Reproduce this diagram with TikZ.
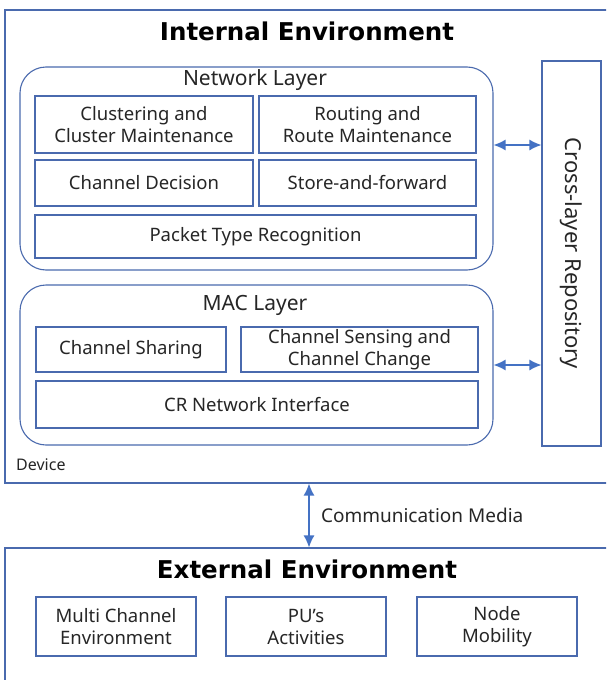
\documentclass[tikz,border=0pt]{standalone}
\usepackage{fontspec}
\setmainfont{Noto Sans}
\newfontfamily\titlefont{DejaVu Sans}
\usetikzlibrary{positioning,arrows.meta,calc}
\definecolor{frame}{HTML}{4A6AAE}
\definecolor{arrowblue}{HTML}{4472C4}
\definecolor{txt}{HTML}{262626}

\tikzset{
  envbox/.style={draw=frame, line width=1.1pt, fill=white},
  layerbox/.style={draw=frame, line width=1.1pt, rounded corners=26pt},
  funcbox/.style={draw=frame, line width=1.1pt, align=center, text=txt,
                  font=\fontsize{18.5}{22}\selectfont, inner sep=0pt},
  layerlabel/.style={text=txt, font=\fontsize{21}{24}\selectfont},
  envtitle/.style={font=\titlefont\bfseries\fontsize{24.5}{29}\selectfont},
  link/.style={{Latex[length=12pt,width=11pt]}-{Latex[length=12pt,width=11pt]},
               draw=arrowblue, line width=1.4pt}
}

\begin{document}
\begin{tikzpicture}[x=1pt, y=-1pt]
    \useasboundingbox (0,0) rectangle (606,680);
    \clip (0,0) rectangle (606,680);
    % internal side
    \node[envbox, minimum width=608pt, minimum height=473pt] (internal) at (309,246.5) {};
    \node[envtitle] (intitle) at (307,31) {Internal Environment};
    \node[layerbox, minimum width=473pt, minimum height=203pt] (netlayer) at (256.5,168.5) {};
    \node[layerlabel] (netlabel) at (255,80) {Network Layer};
    \node[funcbox, minimum width=218pt, minimum height=57pt] (cluster) at (144,124.5)
         {Clustering and\\ Cluster Maintenance};
    \node[funcbox, minimum width=217pt, minimum height=57pt] (routing) at (367.5,124.5)
         {Routing and\\ Route Maintenance};
    \node[funcbox, minimum width=218pt, minimum height=46pt] (chdecision) at (144,183) {Channel Decision};
    \node[funcbox, minimum width=217pt, minimum height=46pt] (storefwd) at (367.5,183) {Store-and-forward};
    \node[funcbox, minimum width=441pt, minimum height=43pt] (packettype) at (255.5,236.5) {Packet Type Recognition};
    \node[layerbox, minimum width=473pt, minimum height=160pt] (maclayer) at (256.5,365) {};
    \node[layerlabel] (maclabel) at (255,305) {MAC Layer};
    \node[funcbox, minimum width=190pt, minimum height=45pt] (chsharing) at (131,349.5) {Channel Sharing};
    \node[funcbox, minimum width=237pt, minimum height=45pt] (chsensing) at (359.5,349.5)
         {Channel Sensing and\\ Channel Change};
    \node[funcbox, minimum width=442pt, minimum height=47pt] (crnet) at (257,404.5) {CR Network Interface};
    \node[draw=frame, line width=1.1pt, minimum width=59pt, minimum height=385pt] (repository) at (571.5,253.5) {};
    \node[rotate=-90, text=txt, font=\fontsize{22}{26}\selectfont] (repolabel) at (repository.center) {Cross-layer Repository};
    \node[anchor=west, text=txt, font=\fontsize{16}{19}\selectfont, inner sep=0pt] (device) at (16,465) {Device};
    \draw[link] ($(netlayer.east)+(0,-23.5)$) -- ($(repository.west |- netlayer.east)+(0,-23.5)$);
    \draw[link] (maclayer.east) -- (repository.west |- maclayer.east);
    % external side
    \node[envbox, minimum width=608pt, minimum height=152pt] (external) at (309,624) {};
    \node[envtitle] (extitle) at (307,569) {External Environment};
    \node[funcbox, minimum width=160pt, minimum height=59pt] (multich) at (116,626.5)
         {Multi Channel\\ Environment};
    \node[funcbox, minimum width=160pt, minimum height=59pt] (puact) at (306,626.5)
         {PU's\\ Activities};
    \node[funcbox, minimum width=160pt, minimum height=59pt] (mobility) at (497,626.5)
         {Node\\ Mobility};
    \draw[link] (internal.south) -- node[right=8pt, text=txt, font=\fontsize{19}{22}\selectfont] (medialabel) {Communication Media} (external.north);
  \end{tikzpicture}
\end{document}
